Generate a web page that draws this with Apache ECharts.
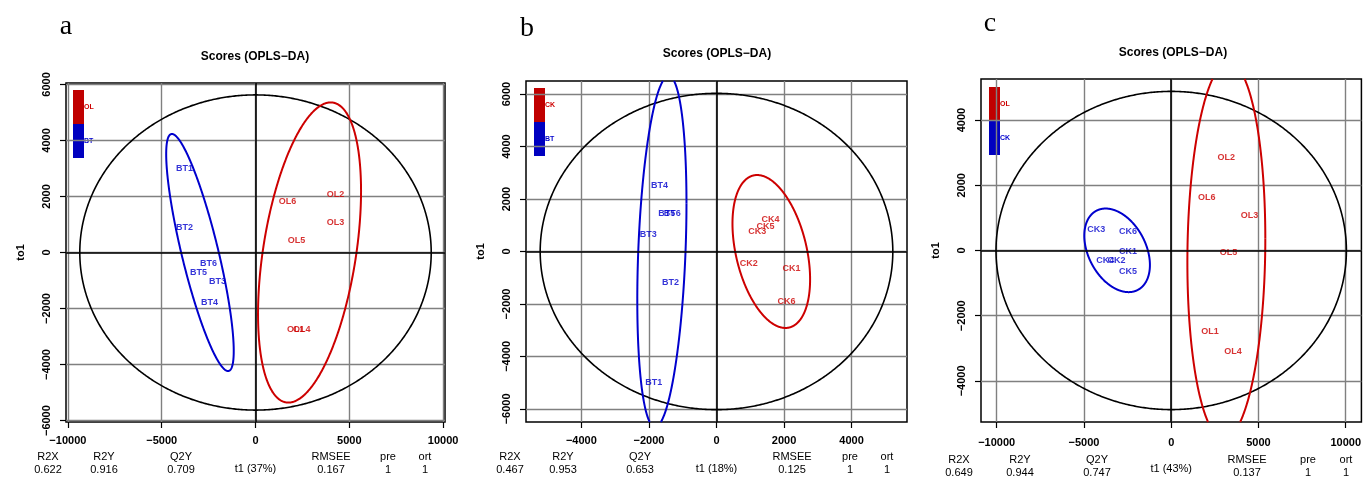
<!DOCTYPE html>
<html><head><meta charset="utf-8">
<script src="https://cdn.jsdelivr.net/npm/echarts@6/dist/echarts.min.js"></script>
<style>html,body{margin:0;padding:0;background:#fff}#c{width:1364px;height:479px}</style>
</head><body><div id="c"></div>
<script>
// ---------- DATA ----------
// Panel a (BT vs OL)
const aBlueNames = ['BT1','BT2','BT6','BT5','BT3','BT4'];
const aBlueX = [-3790, -3790, -2510, -3040, -2030, -2455];
const aBlueY = [3000, 890, -390, -715, -1035, -1785];
const aRedNames = ['OL6','OL2','OL3','OL5','OL1','OL4'];
const aRedX = [1710, 4270, 4270, 2190, 2140, 2460];
const aRedY = [1820, 2070, 1070, 430, -2750, -2750];
// ellipse params: [cx, cy, halfWidthX, halfHeightY, correlation, colourIndex(0 black,1 blue,2 red)]
const aEllipses = [[0, 0, 9365, 5625, 0, 0], [-2960, 0, 1800, 4230, -0.83, 1], [2880, 0, 2745, 5357, 0.41, 2]];
const aStatLabels = ['R2X','R2Y','Q2Y','RMSEE','pre','ort'];
const aStatValues = ['0.622','0.916','0.709','0.167','1','1'];
const aXLabel = 't1 (37%)';
const aLegend = ['OL','BT'];
const aXTicks = [-10000, -5000, 0, 5000, 10000];
const aYTicks = [-6000, -4000, -2000, 0, 2000, 4000, 6000];

// Panel b (BT vs CK)
const bBlueNames = ['BT4','BT5','BT6','BT3','BT2','BT1'];
const bBlueX = [-1690, -1470, -1310, -2020, -1360, -1855];
const bBlueY = [2510, 1460, 1460, 660, -1200, -5000];
const bRedNames = ['CK4','CK5','CK3','CK2','CK1','CK6'];
const bRedX = [1600, 1450, 1205, 955, 2220, 2070];
const bRedY = [1230, 950, 760, -470, -660, -1900];
const bEllipses = [[0, 0, 5220, 6030, 0, 0], [-1617, 0, 728, 6690, 0.275, 1], [1622, 0, 1149, 2915, -0.364, 2]];
const bStatValues = ['0.467','0.953','0.653','0.125','1','1'];
const bXLabel = 't1 (18%)';
const bLegend = ['CK','BT'];
const bXTicks = [-4000, -2000, 0, 2000, 4000];
const bYTicks = [-6000, -4000, -2000, 0, 2000, 4000, 6000];

// Panel c (CK vs OL)
const cBlueNames = ['CK3','CK6','CK1','CK4','CK2','CK5'];
const cBlueX = [-4290, -2480, -2480, -3780, -3140, -2480];
const cBlueY = [650, 580, -30, -300, -300, -640];
const cRedNames = ['OL2','OL6','OL3','OL5','OL1','OL4'];
const cRedX = [3160, 2030, 4480, 3290, 2220, 3540];
const cRedY = [2840, 1640, 1080, -60, -2490, -3100];
const cEllipses = [[0, 0, 10040, 4880, 0, 0], [-3100, 5, 1880, 1282, -0.35, 1], [3160, 0, 2233, 5775, 0.063, 2]];
const cStatValues = ['0.649','0.944','0.747','0.137','1','1'];
const cXLabel = 't1 (43%)';
const cLegend = ['OL','CK'];
const cXTicks = [-10000, -5000, 0, 5000, 10000];
const cYTicks = [-4000, -2000, 0, 2000, 4000];

const titleText = 'Scores (OPLS\u2212DA)';
const yName = 'to1';
const panelLetters = ['a','b','c'];

// ---------- STYLE / LAYOUT ----------
const RED = '#CD0000', BLUE = '#0000CD';
const ELL_COLORS = ['#000000', BLUE, RED];
const FONT = 'Liberation Sans, Arial, Helvetica, sans-serif';
const panels = [
  {grid:{left:66, top:83, width:379, height:340}, xr:[-10100,10100], yr:[-6050,6050],
   xt:aXTicks, yt:aYTicks, blue:[aBlueNames,aBlueX,aBlueY], red:[aRedNames,aRedX,aRedY], ell:aEllipses,
   stats:aStatValues, xl:aXLabel, leg:aLegend, statX:[48,104,181,331,388,425], statY:[457,470],
   title:[255,57], letter:[66,27], legX:73, legY:90, xMargin:13},
  {grid:{left:526, top:81, width:381, height:342}, xr:[-5640,5640], yr:[-6500,6500],
   xt:bXTicks, yt:bYTicks, blue:[bBlueNames,bBlueX,bBlueY], red:[bRedNames,bRedX,bRedY], ell:bEllipses,
   stats:bStatValues, xl:bXLabel, leg:bLegend, statX:[510,563,640,792,850,887], statY:[457,470],
   title:[717,54], letter:[527,29], legX:534, legY:88, xMargin:13},
  {grid:{left:981, top:79, width:385, height:346}, xr:[-10900,10900], yr:[-5260,5260],
   xt:cXTicks, yt:cYTicks, blue:[cBlueNames,cBlueX,cBlueY], red:[cRedNames,cRedX,cRedY], ell:cEllipses,
   stats:cStatValues, xl:cXLabel, leg:cLegend, statX:[959,1020,1097,1247,1308,1346], statY:[460,472.5],
   title:[1173,53], letter:[990,24], legX:989, legY:87, xMargin:15}
];

// ---------- HELPERS ----------
function clipSeg(p0, p1, x0, y0, x1, y1) {
  let t0 = 0, t1 = 1;
  const dx = p1[0]-p0[0], dy = p1[1]-p0[1];
  const p = [-dx, dx, -dy, dy], q = [p0[0]-x0, x1-p0[0], p0[1]-y0, y1-p0[1]];
  for (let i = 0; i < 4; i++) {
    if (p[i] === 0) { if (q[i] < 0) return null; }
    else {
      const t = q[i]/p[i];
      if (p[i] < 0) { if (t > t1) return null; if (t > t0) t0 = t; }
      else { if (t < t0) return null; if (t < t1) t1 = t; }
    }
  }
  return [[p0[0]+t0*dx, p0[1]+t0*dy], [p0[0]+t1*dx, p0[1]+t1*dy], t1 < 1];
}
function clipPolyline(pts, x0, y0, x1, y1) {
  const out = []; let cur = null;
  for (let i = 0; i < pts.length-1; i++) {
    const s = clipSeg(pts[i], pts[i+1], x0, y0, x1, y1);
    if (!s) { if (cur) { out.push(cur); cur = null; } continue; }
    if (!cur) cur = [s[0], s[1]]; else cur.push(s[1]);
    if (s[2]) { out.push(cur); cur = null; }
  }
  if (cur) out.push(cur);
  return out;
}
function renderEllipse(params, api) {
  const cx = api.value(0), cy = api.value(1), A = api.value(2), B = api.value(3), r = api.value(4);
  const col = ELL_COLORS[api.value(5)];
  const d = Math.acos(r);
  const pts = [];
  for (let i = 0; i <= 720; i++) {
    const t = i * Math.PI / 360;
    pts.push(api.coord([cx + A*Math.cos(t), cy + B*Math.cos(t - d)]));
  }
  const cs = params.coordSys;
  const segs = clipPolyline(pts, cs.x, cs.y, cs.x + cs.width, cs.y + cs.height);
  return {type:'group', children: segs.map(s => ({type:'polyline', shape:{points:s},
    style:{stroke:col, lineWidth: api.value(5) === 0 ? 1.6 : 2, fill:null}}))};
}
function fmtTick(v) { return v < 0 ? '\u2212' + Math.abs(v) : String(v); }

// ---------- OPTION ----------
const grids = [], xAxes = [], yAxes = [], series = [], graphics = [];
panels.forEach((P, k) => {
  grids.push(Object.assign({show:true, borderColor:'#000', borderWidth:1.5, containLabel:false}, P.grid));
  xAxes.push({type:'value', gridIndex:k, min:P.xr[0], max:P.xr[1], position:'bottom',
    name:P.xl, nameLocation:'middle', nameGap:41,
    nameTextStyle:{fontFamily:FONT, fontSize:11, color:'#000'},
    axisLine:{show:false, onZero:false},
    axisTick:{show:true, inside:false, length:6, customValues:P.xt, lineStyle:{color:'#000', width:1.2}},
    axisLabel:{show:true, customValues:P.xt, margin:P.xMargin, formatter:fmtTick,
      fontFamily:FONT, fontSize:11, fontWeight:'bold', color:'#000', showMinLabel:true, showMaxLabel:true},
    splitLine:{show:true, lineStyle:{color:'#808080', width:1.4}}
  });
  yAxes.push({type:'value', gridIndex:k, min:P.yr[0], max:P.yr[1], position:'left',
    name:yName, nameLocation:'middle', nameGap:40, nameRotate:90,
    nameTextStyle:{fontFamily:FONT, fontSize:11, fontWeight:'bold', color:'#000'},
    axisLine:{show:false, onZero:false},
    axisTick:{show:true, inside:false, length:6, customValues:P.yt, lineStyle:{color:'#000', width:1.2}},
    axisLabel:{show:true, customValues:P.yt, rotate:90, margin:14, formatter:fmtTick,
      fontFamily:FONT, fontSize:11, fontWeight:'bold', color:'#000'},
    splitLine:{show:true, lineStyle:{color:'#808080', width:1.4}}
  });
  series.push({type:'custom', xAxisIndex:k, yAxisIndex:k, renderItem:renderEllipse,
    data:P.ell, silent:true, animation:false, z:3,
    encode:{x:0, y:1}});
  const mkPts = (g) => g[0].map((n, i) => ({name:n, value:[g[1][i], g[2][i]]}));
  [['blue', BLUE], ['red', RED]].forEach(([key, col], j) => {
    const s = {type:'scatter', xAxisIndex:k, yAxisIndex:k, data:mkPts(P[key]),
      symbol:'circle', symbolSize:1, itemStyle:{color:'rgba(0,0,0,0)'}, silent:true, animation:false, z:4,
      label:{show:true, position:'inside', formatter:'{b}', color:col, fontFamily:FONT,
        fontSize:9, fontWeight:'bold'}};
    if (j === 0) {
      s.markLine = {silent:true, symbol:'none', animation:false, label:{show:false},
        lineStyle:{color:'#000', width:1.6, type:'solid'},
        data:[{xAxis:0}, {yAxis:0}]};
    }
    series.push(s);
  });
  // title, letter
  graphics.push({type:'text', x:P.title[0], y:P.title[1], silent:true,
    style:{text:titleText, font:'bold 12px ' + FONT, fill:'#000', textAlign:'center', textVerticalAlign:'middle', align:'center', verticalAlign:'middle'}});
  graphics.push({type:'text', x:P.letter[0], y:P.letter[1], silent:true,
    style:{text:panelLetters[k], font:'28px "Liberation Serif", "DejaVu Serif", serif', fill:'#000', textAlign:'center', textVerticalAlign:'middle', align:'center', verticalAlign:'middle'}});
  // legend bar
  graphics.push({type:'rect', silent:true, shape:{x:P.legX, y:P.legY, width:11, height:34}, style:{fill:'#C00000'}});
  graphics.push({type:'rect', silent:true, shape:{x:P.legX, y:P.legY+34, width:11, height:34}, style:{fill:'#0000C0'}});
  graphics.push({type:'text', silent:true, x:P.legX+11, y:P.legY+17,
    style:{text:P.leg[0], font:'bold 7px ' + FONT, fill:RED, textAlign:'left', textVerticalAlign:'middle', align:'left', verticalAlign:'middle'}});
  graphics.push({type:'text', silent:true, x:P.legX+11, y:P.legY+51,
    style:{text:P.leg[1], font:'bold 7px ' + FONT, fill:BLUE, textAlign:'left', textVerticalAlign:'middle', align:'left', verticalAlign:'middle'}});
  // stats
  aStatLabels.forEach((lab, i) => {
    graphics.push({type:'text', silent:true, x:P.statX[i], y:P.statY[0],
      style:{text:lab, font:'11px ' + FONT, fill:'#000', textAlign:'center', textVerticalAlign:'middle', align:'center', verticalAlign:'middle'}});
    graphics.push({type:'text', silent:true, x:P.statX[i], y:P.statY[1],
      style:{text:P.stats[i], font:'11px ' + FONT, fill:'#000', textAlign:'center', textVerticalAlign:'middle', align:'center', verticalAlign:'middle'}});
  });
});

const chart = echarts.init(document.getElementById('c'), null, {renderer:'canvas'});
chart.setOption({
  backgroundColor:'#ffffff', animation:false,
  grid:grids, xAxis:xAxes, yAxis:yAxes, series:series, graphic:graphics
});
</script></body></html>
